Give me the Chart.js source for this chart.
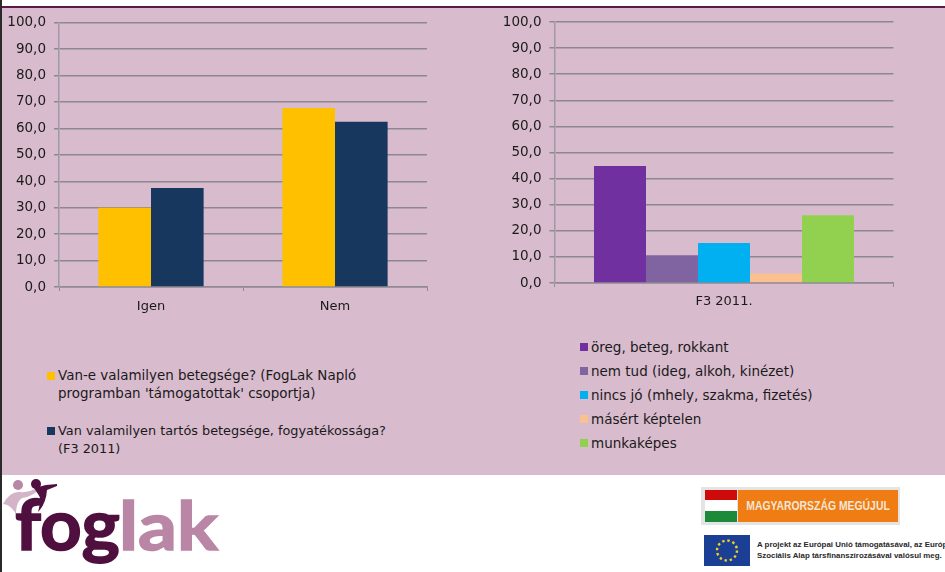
<!DOCTYPE html>
<html>
<head>
<meta charset="utf-8">
<title>FogLak</title>
<script src="https://cdn.jsdelivr.net/npm/chart.js@4"></script>
<style>
html, body { margin: 0; padding: 0; background: #fff; }
#page { position: relative; width: 945px; height: 572px; overflow: hidden; font-family: "DejaVu Sans", sans-serif; color: #1a1a1a; }
#band { position: absolute; left: 0; top: 6px; width: 945px; height: 469px; background: #d9bbce; border-top: 2px solid #5a1a4e; box-sizing: border-box; }
#edge { position: absolute; left: 0; top: 0; width: 2px; height: 572px; background: #2a2a2a; }
canvas { position: absolute; }
.leg { position: absolute; line-height: 18px; white-space: nowrap; }
.leg i { position: absolute; width: 8px; height: 8px; }
#logo { position: absolute; left: 0; top: 460px; width: 300px; height: 112px; }
#flag { position: absolute; left: 701px; top: 487px; width: 199px; height: 38px; background: #e4e4e4; }
#flag b { position: absolute; left: 4px; width: 32px; }
#hu { position: absolute; left: 37px; top: 3px; width: 160px; height: 32px; background: #f07d14; color: #f3e6d8; font: bold 13px/32px "Liberation Sans", sans-serif; white-space: nowrap; }
#hu span { position: absolute; left: 50%; top: 0; transform: translateX(-50%) scaleX(.8); }
#eu { position: absolute; left: 704px; top: 535px; width: 46px; height: 31px; }
#eutext { position: absolute; left: 757px; top: 539px; font: bold 7.9px/11px "Liberation Sans", sans-serif; color: #2a2a2a; white-space: nowrap; }
</style>
</head>
<body>
<div id="page">
  <div id="band"></div>
  <div id="edge"></div>
  <canvas id="grafik_betegseg" width="470" height="320" style="left:0;top:0;width:470px;height:320px"></canvas>
  <canvas id="grafik_f3" width="445" height="320" style="left:500px;top:0;width:445px;height:320px"></canvas>
  <div id="legend1"></div>
  <div id="legend2"></div>
  <svg id="logo" viewBox="0 0 300 112">
    <circle cx="18" cy="25" r="5" fill="#b987a5"></circle>
    <circle cx="36" cy="24" r="5" fill="#4f0f3f"></circle>
    <path d="M3 44 Q10 31 20 32 Q28 33 35 29 L38 31 Q30 37 22 38 Q16 42 16 54 Q10 44 3 44Z" fill="#d3b4c8"></path>
    <path d="M34 28 L46 25 L57 24 L57 26 L47 30 Q46 44 38 52 Q42 38 38 34Z" fill="#4f0f3f"></path>
    <text x="119" y="90" textLength="99" lengthAdjust="spacingAndGlyphs" font-family="Lato, sans-serif" font-weight="700" font-size="66" fill="#b987a5" stroke="#b987a5" stroke-width="1.5">lak</text>
    <text x="15" y="90" textLength="105" lengthAdjust="spacingAndGlyphs" font-family="Lato, sans-serif" font-weight="700" font-size="71" fill="#4f0f3f" stroke="#4f0f3f" stroke-width="1.5">fog</text>
  </svg>
  <div id="flag">
    <b style="top:3px;height:10px;background:#cf0a0a"></b>
    <b style="top:13px;height:11px;background:#fff"></b>
    <b style="top:24px;height:11px;background:#1d8a3a"></b>
    <div id="hu"><span>MAGYARORSZÁG MEGÚJUL</span></div>
  </div>
  <svg id="eu" viewBox="0 0 46 31">
    <rect width="46" height="31" fill="#1b3f94"></rect>
    <circle cx="23" cy="15.5" r="10" fill="none" stroke="#f4d21f" stroke-width="2.4" stroke-dasharray="2.4 2.84"></circle>
  </svg>
  <div id="eutext">A projekt az Európai Unió támogatásával, az Európai<br>Szociális Alap társfinanszírozásával valósul meg.</div>
</div>
<script>
var yTickLabels = ['0,0', '10,0', '20,0', '30,0', '40,0', '50,0', '60,0', '70,0', '80,0', '90,0', '100,0'];

var labels1 = ['Igen', 'Nem'];
var seriesNames1 = [
    "Van-e valamilyen betegsége? (FogLak Napló\nprogramban 'támogatottak' csoportja)",
    'Van valamilyen tartós betegsége, fogyatékossága?\n(F3 2011)'
];
var naplo = [30.0, 67.7];
var f3 = [37.5, 62.5];
var colors1 = ['#ffc000', '#17375e'];

var labels2 = ['F3 2011.'];
var seriesNames2 = [
    'öreg, beteg, rokkant',
    'nem tud (ideg, alkoh, kinézet)',
    'nincs jó (mhely, szakma, fizetés)',
    'másért képtelen',
    'munkaképes'
];
var oreg = [44.8];
var nemTud = [10.6];
var nincsJo = [15.3];
var masert = [3.6];
var munkakepes = [26.0];
var colors2 = ['#7030a0', '#8064a2', '#00b0f0', '#fac090', '#92d050'];

var gridColor = '#8c888e';
var tickFont = { family: '"DejaVu Sans", sans-serif', size: 13.5 };

// same axis setup for both charts, only the reserved sizes differ
var makeOptions = (axisWidth, axisHeight, padding, catPercent, labelGap) => ({
    responsive: false,
    animation: false,
    layout: { padding: padding },
    plugins: { legend: { display: false }, tooltip: { enabled: false } },
    datasets: { bar: { categoryPercentage: catPercent, barPercentage: 1 } },
    scales: {
        x: {
            afterFit: (axis) => { axis.height = axisHeight; },
            grid: { offset: true, drawOnChartArea: false, color: '#8f8a96', tickLength: 4 },
            border: { color: '#8f8a96', width: 1.5 },
            ticks: { color: '#1a1a1a', font: { family: tickFont.family, size: 13 }, padding: labelGap }
        },
        y: {
            min: 0,
            max: 100,
            afterFit: (axis) => { axis.width = axisWidth; },
            grid: { color: gridColor, lineWidth: 1.5, tickLength: 5 },
            border: { color: '#a09aa6', width: 1.5 },
            ticks: {
                stepSize: 10,
                color: '#1a1a1a',
                font: tickFont,
                padding: 8,
                callback: (value, index) => yTickLabels[index]
            }
        }
    }
});

new Chart(document.getElementById('grafik_betegseg'), {
    type: 'bar',
    data: {
        labels: labels1,
        datasets: [
            { label: seriesNames1[0], data: naplo, backgroundColor: colors1[0] },
            { label: seriesNames1[1], data: f3, backgroundColor: colors1[1] }
        ]
    },
    options: makeOptions(59, 33, { top: 22.7, right: 43, left: 0, bottom: 0 }, 0.572, 8)
});

new Chart(document.getElementById('grafik_f3'), {
    type: 'bar',
    data: {
        labels: labels2,
        datasets: [
            { label: seriesNames2[0], data: oreg, backgroundColor: colors2[0] },
            { label: seriesNames2[1], data: nemTud, backgroundColor: colors2[1] },
            { label: seriesNames2[2], data: nincsJo, backgroundColor: colors2[2] },
            { label: seriesNames2[3], data: masert, backgroundColor: colors2[3] },
            { label: seriesNames2[4], data: munkakepes, backgroundColor: colors2[4] }
        ]
    },
    options: makeOptions(54.5, 37, { top: 22, right: 51.5, left: 0, bottom: 0 }, 0.767, 7)
});

// html legends, the chart.js one cannot place these wrapped entries
var addLegend = (boxId, names, colors, left, tops, sizes) => {
    var box = document.getElementById(boxId);
    names.forEach((name, i) => {
        var row = document.createElement('div');
        row.className = 'leg';
        row.style.left = left + 'px';
        row.style.top = tops[i] + 'px';
        row.style.fontSize = sizes[i] + 'px';
        row.innerHTML = '<i style="left:-11px;top:5px;background:' + colors[i] + '"></i>' + name.replace('\n', '<br>');
        box.appendChild(row);
    });
};

addLegend('legend1', seriesNames1, colors1, 58, [367, 422], [13.45, 12.85]);
addLegend('legend2', seriesNames2, colors2, 591, [338, 362, 386, 410, 434], [13.5, 13.5, 13.5, 13.5, 13.5]);
</script>
</body>
</html>
